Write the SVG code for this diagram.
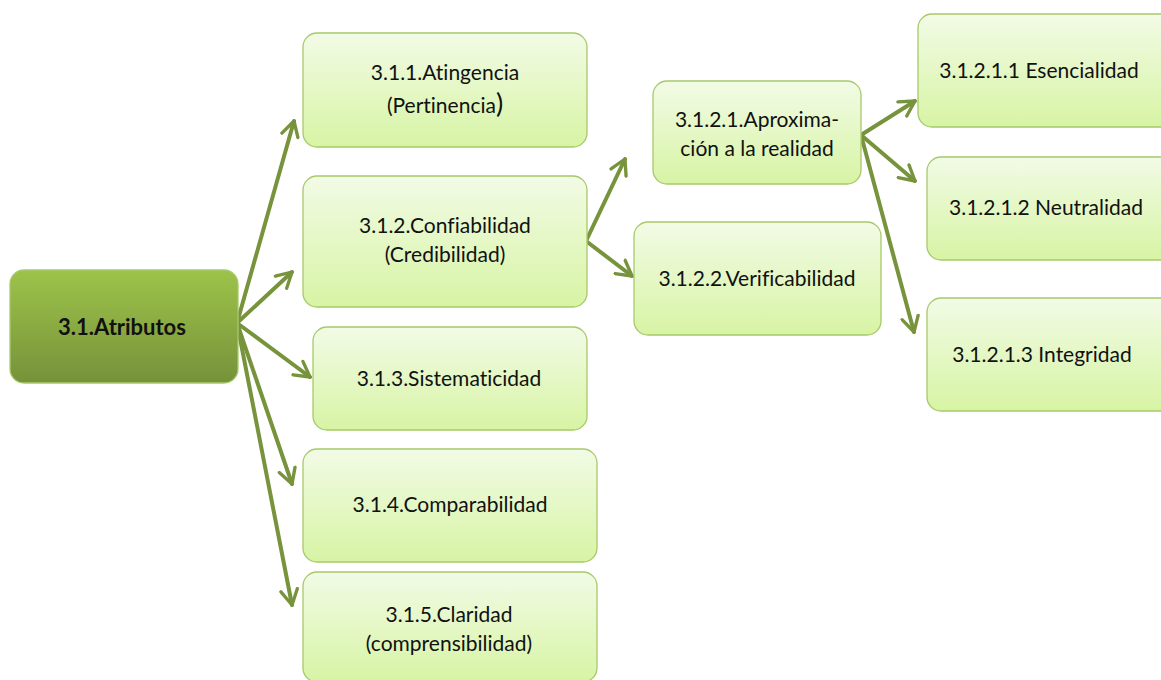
<svg xmlns="http://www.w3.org/2000/svg" width="1161" height="680" viewBox="0 0 1161 680">
<defs>
<linearGradient id="gLight" x1="0" y1="0" x2="0" y2="1">
<stop offset="0" stop-color="#f2fbe6"/>
<stop offset="1" stop-color="#d7f4a4"/>
</linearGradient>
<linearGradient id="gDark" x1="0" y1="0" x2="0" y2="1">
<stop offset="0" stop-color="#9dc34a"/>
<stop offset="1" stop-color="#76923a"/>
</linearGradient>
<marker id="ah" viewBox="0 0 12 12" refX="10" refY="6" markerWidth="5" markerHeight="5" orient="auto" markerUnits="strokeWidth">
<path d="M1,1 L10,6 L1,11" fill="none" stroke="#77933c" stroke-width="2" stroke-linecap="round" stroke-linejoin="round"/>
</marker>
</defs>
<style>
.n{fill:url(#gLight);stroke:#a8c96a;stroke-width:1.3}
.r{fill:url(#gDark);stroke:#a8c96a;stroke-width:1.3}
.t{font-family:Lato,"Liberation Sans",sans-serif;font-size:21px;fill:#111;text-anchor:middle;font-variant-ligatures:none}
.b{font-weight:bold;font-size:22px}
.c line{stroke:#77933c;stroke-width:4;stroke-linecap:round;marker-end:url(#ah)}
</style>
<rect width="1161" height="680" fill="#fff"/>
<g class="c" id="connectors">
<line x1="237" y1="323" x2="294" y2="121"/>
<line x1="237" y1="323" x2="292" y2="272"/>
<line x1="237" y1="323" x2="310" y2="377"/>
<line x1="237" y1="323" x2="292" y2="484"/>
<line x1="237" y1="323" x2="292" y2="605"/>
<line x1="586" y1="241" x2="625" y2="159"/>
<line x1="586" y1="241" x2="632" y2="276"/>
<line x1="861" y1="135" x2="915" y2="101"/>
<line x1="861" y1="135" x2="915" y2="181"/>
<line x1="861" y1="135" x2="914" y2="332"/>
</g>
<g id="n31"><rect class="r" x="10" y="270" width="228" height="113" rx="14"/><text class="t b" x="122" y="335">3.1.Atributos</text></g>
<g id="n311"><rect class="n" x="303" y="33" width="284" height="114" rx="14"/><text class="t" x="445" y="80">3.1.1.Atingencia</text><text class="t" x="445" y="113">(Pertinencia<tspan font-size="27">)</tspan></text></g>
<g id="n312"><rect class="n" x="303" y="176" width="284" height="131" rx="14"/><text class="t" x="445" y="233">3.1.2.Confiabilidad</text><text class="t" x="445" y="262">(Credibilidad)</text></g>
<g id="n313"><rect class="n" x="313" y="327" width="274" height="103" rx="14"/><text class="t" x="449" y="386">3.1.3.Sistematicidad</text></g>
<g id="n314"><rect class="n" x="303" y="449" width="294" height="113" rx="14"/><text class="t" x="450" y="512">3.1.4.Comparabilidad</text></g>
<g id="n315"><rect class="n" x="303" y="572" width="294" height="110" rx="14"/><text class="t" x="449" y="622">3.1.5.Claridad</text><text class="t" x="449" y="651">(comprensibilidad)</text></g>
<g id="n3121"><rect class="n" x="653" y="81" width="208" height="103" rx="14"/><text class="t" x="757" y="127">3.1.2.1.Aproxima-</text><text class="t" x="757" y="156">ción a la realidad</text></g>
<g id="n3122"><rect class="n" x="634" y="222" width="247" height="113" rx="14"/><text class="t" x="757" y="286">3.1.2.2.Verificabilidad</text></g>
<g id="n31211"><rect class="n" x="918" y="14" width="260" height="113" rx="14"/><text class="t" x="1039" y="78">3.1.2.1.1 Esencialidad</text></g>
<g id="n31212"><rect class="n" x="927" y="157" width="250" height="103" rx="14"/><text class="t" x="1046" y="215">3.1.2.1.2 Neutralidad</text></g>
<g id="n31213"><rect class="n" x="927" y="298" width="250" height="113" rx="14"/><text class="t" x="1042" y="362">3.1.2.1.3 Integridad</text></g>
</svg>
